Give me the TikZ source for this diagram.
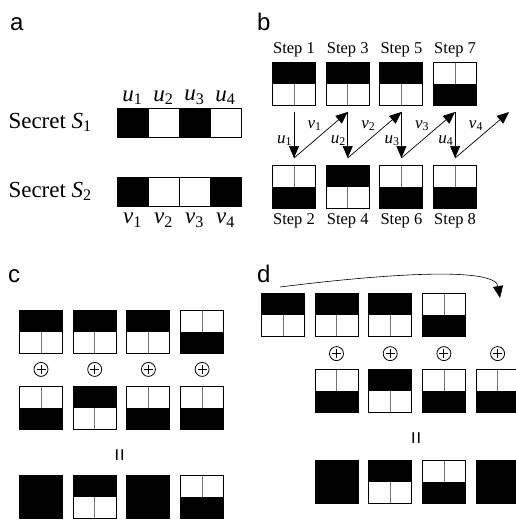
\documentclass[tikz,border=0pt]{standalone}
\usepackage{fontspec}
\setmainfont{Liberation Serif}
\setsansfont{Liberation Sans}
\usetikzlibrary{arrows.meta,positioning,calc}

\newcommand{\sbs}[2]{\textit{#1}\textsubscript{#2}}

\begin{document}
\begin{tikzpicture}[
    x=1pt, y=-1pt,
    node distance=10.7pt,
    sq/.style={rectangle,draw=black,line width=1pt,minimum width=43pt,minimum height=43pt,inner sep=0pt,outer sep=0pt},
    divider/.style={black!55,line width=0.8pt},
    sqT/.style={sq,path picture={
        \fill[black] (path picture bounding box.north west) rectangle (path picture bounding box.east);
        \draw[divider] (path picture bounding box.center) -- (path picture bounding box.south);}},
    sqB/.style={sq,path picture={
        \fill[black] (path picture bounding box.west) rectangle (path picture bounding box.south east);
        \draw[divider] (path picture bounding box.center) -- (path picture bounding box.north);}},
    sqF/.style={sq,fill=black},
    cellw/.style={rectangle,draw=black,line width=1pt,minimum width=31pt,minimum height=29pt,inner sep=0pt,outer sep=0pt},
    cellk/.style={cellw,fill=black},
    oplus/.style={circle,draw=black,line width=0.8pt,minimum size=14pt,inner sep=0pt,path picture={
        \draw[line width=0.9pt] ([xshift=-4.5pt]path picture bounding box.center) -- ([xshift=4.5pt]path picture bounding box.center);
        \draw[line width=0.9pt] ([yshift=-4.5pt]path picture bounding box.center) -- ([yshift=4.5pt]path picture bounding box.center);}},
    eqsign/.style={font=\sffamily\fontsize{22}{22}\selectfont,rotate=90,inner sep=0pt},
    plabel/.style={font=\sffamily\fontsize{24}{28}\selectfont,inner sep=0pt,anchor=base west},
    secret/.style={font=\fontsize{23}{26}\selectfont,inner sep=0pt},
    idx/.style={font=\fontsize{23}{26}\selectfont,inner sep=1pt},
    steplbl/.style={font=\fontsize{16.5}{18}\selectfont,inner sep=1pt},
    arr/.style={-{Triangle[length=12pt,width=10pt]},line width=0.7pt},
    arrlbl/.style={font=\fontsize{17}{18}\selectfont,inner sep=1.5pt}
]
\useasboundingbox (0,0) rectangle (515,520);

% panel a
\node[plabel] (la) at (10,30) {a};
\node[cellk] (s1a) at (132.5,122.5) {};
\node[cellw,right=0pt of s1a] (s1b) {};
\node[cellk,right=0pt of s1b] (s1c) {};
\node[cellw,right=0pt of s1c] (s1d) {};
\node[cellk] (s2a) at (132.5,191.5) {};
\node[cellw,right=0pt of s2a] (s2b) {};
\node[cellw,right=0pt of s2b] (s2c) {};
\node[cellk,right=0pt of s2c] (s2d) {};
\node[secret,left=25pt of s1a] (sec1) {Secret \textit{S}\textsubscript{1}};
\node[secret,left=25pt of s2a] (sec2) {Secret \textit{S}\textsubscript{2}};
\foreach \c [count=\i] in {a,b,c,d} {
    \node[idx,above=2pt of s1\c] (u\i) {\sbs{u}{\i}};
    \node[idx,below=6pt of s2\c] (v\i) {\sbs{v}{\i}};
}

% panel b
\node[plabel] (lb) at (257,30) {b};
\node[sqT] (b1) at (294,84) {};
\node[sqT,right=of b1] (b3) {};
\node[sqT,right=of b3] (b5) {};
\node[sqB,right=of b5] (b7) {};
\node[sqB,below=60pt of b1] (b2) {};
\node[sqT,right=of b2] (b4) {};
\node[sqB,right=of b4] (b6) {};
\node[sqB,right=of b6] (b8) {};
\foreach \n [count=\i] in {1,3,5,7} {
    \node[steplbl,above=4pt of b\n] (st\n) {Step \n};
    \coordinate (top\i) at ($(b\n.south)+(0,6.5)$);
}
\foreach \n [count=\i] in {2,4,6,8} {
    \node[steplbl,below=4pt of b\n] (st\n) {Step \n};
    \coordinate (bot\i) at ($(b\n.north)+(0,-7.5)$);
}
\coordinate (top5) at ($(top4)+(54,0)$);
\foreach \i [evaluate=\i as \j using int(\i+1)] in {1,...,4} {
    \draw[arr] (top\i) -- node[arrlbl,pos=0.62,left] {\sbs{u}{\i}} (bot\i);
    \draw[arr] (bot\i) -- node[arrlbl,pos=0.55,above left] {\sbs{v}{\i}} (top\j);
}

% panel c
\node[plabel] (lc) at (8,282) {c};
\node[sqT] (c11) at (41,332) {};
\node[sqT,right=of c11] (c12) {};
\node[sqT,right=of c12] (c13) {};
\node[sqB,right=of c13] (c14) {};
\foreach \i in {1,...,4}
    \node[oplus,below=8.5pt of c1\i] (cp\i) {};
\node[sqB,below=9.5pt of cp1] (c21) {};
\node[sqT,right=of c21] (c22) {};
\node[sqB,right=of c22] (c23) {};
\node[sqB,right=of c23] (c24) {};
\node[eqsign] (ceq) at (121.5,455) {=};
\node[sqF,below=46.5pt of c21] (c31) {};
\node[sqT,right=of c31] (c32) {};
\node[sqF,right=of c32] (c33) {};
\node[sqB,right=of c33] (c34) {};

% panel d
\node[plabel] (ld) at (257,282) {d};
\node[sqT] (d11) at (283,315) {};
\node[sqT,right=of d11] (d12) {};
\node[sqT,right=of d12] (d13) {};
\node[sqB,right=of d13] (d14) {};
\node[sqB] (d21) at (336.5,390.5) {};
\node[sqT,right=of d21] (d22) {};
\node[sqB,right=of d22] (d23) {};
\node[sqB,right=of d23] (d24) {};
\foreach \i in {1,...,4}
    \node[oplus,above=8pt of d2\i] (dp\i) {};
\node[eqsign] (deq) at (418,438) {=};
\node[sqF,below=48pt of d21] (d31) {};
\node[sqT,right=of d31] (d32) {};
\node[sqB,right=of d32] (d33) {};
\node[sqF,right=of d33] (d34) {};
\coordinate (dfrom) at (280,287);
\coordinate (dto) at (500,298);
\draw[arr,line width=0.6pt] (dfrom) .. controls (400,272) and (495,268) .. (dto);
\end{tikzpicture}
\end{document}
